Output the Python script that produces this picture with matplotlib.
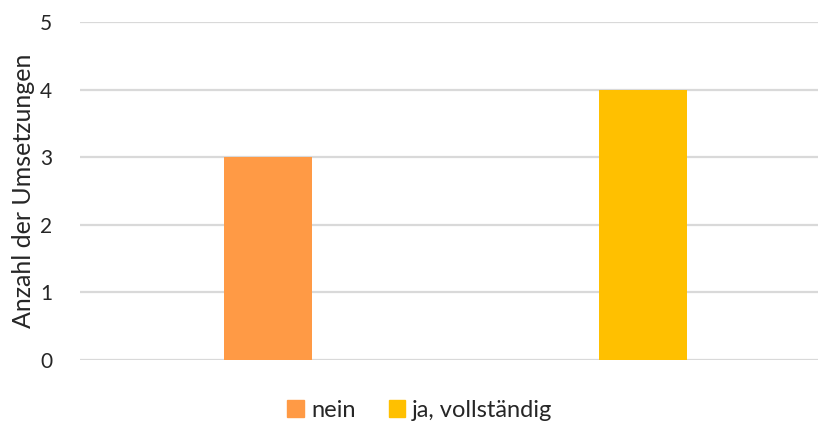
import matplotlib
matplotlib.use('Agg')
import matplotlib.pyplot as plt
from matplotlib.patches import Patch

series = ['nein', 'ja, vollständig']
values = [3, 4]
colors = ['#FF9A45', '#FFC000']
yticks = [0, 1, 2, 3, 4, 5]

plt.rcParams['font.family'] = ['Lato', 'DejaVu Sans']

fig = plt.figure(figsize=(8.18, 4.23), dpi=100)
ax = fig.add_axes([80/818, 1 - 360/423, 1 - 80/818, (360 - 22)/423])

xs = list(range(len(series)))
ax.bar(xs, values, width=0.235, color=colors, zorder=3)

ax.set_ylim(0, 5)
ax.set_xlim(-0.501, 1.467)
ax.set_yticks(yticks)
ax.set_xticks([])
ax.yaxis.grid(True, color='#D9D9D9', linewidth=1.6, zorder=0)
for s in ax.spines.values():
    s.set_visible(False)
ax.tick_params(axis='y', length=0, pad=20, labelsize=15, labelcolor='#262626')
ax.set_ylabel('Anzahl der Umsetzungen', fontsize=18, color='#262626', labelpad=4)

handles = [Patch(color=c, label=l) for c, l in zip(colors, series)]
fig.legend(handles=handles, loc='center', bbox_to_anchor=(420/818, 1 - 410/423),
           ncol=2, frameon=False, fontsize=17, handlelength=0.7, handleheight=0.7,
           handletextpad=0.3, columnspacing=1.4, labelcolor='#262626')

fig.savefig('out.png', dpi=100)
